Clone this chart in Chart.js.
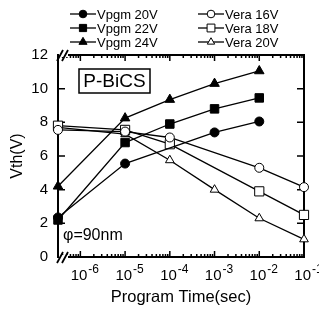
<!DOCTYPE html>
<html>
<head>
<meta charset="utf-8">
<script src="https://cdn.jsdelivr.net/npm/chart.js@4.4.0/dist/chart.umd.min.js"></script>
<style>
html, body { margin: 0; padding: 0; background: #fff; }
</style>
</head>
<body>
<canvas id="grafico" width="319" height="310"></canvas>
<script>
const FUENTE = "'Liberation Sans', Arial, sans-serif";

// t = 0 se dibuja en el corte del eje (10^-6.5)
const T0 = Math.pow(10, -6.5);

// Datos
const etiquetas = ['Vpgm 20V', 'Vpgm 22V', 'Vpgm 24V', 'Vera 16V', 'Vera 18V', 'Vera 20V'];

const tiempoVpgm20 = [T0, 1e-5, 1e-3, 1e-2];
const vthVpgm20 = [2.35, 5.55, 7.4, 8.05];

const tiempoVpgm22 = [T0, 1e-5, 1e-4, 1e-3, 1e-2];
const vthVpgm22 = [2.2, 6.8, 7.9, 8.8, 9.45];

const tiempoVpgm24 = [T0, 1e-5, 1e-4, 1e-3, 1e-2];
const vthVpgm24 = [4.2, 8.25, 9.35, 10.3, 11.05];

const tiempoVera16 = [T0, 1e-5, 1e-4, 1e-2, 1e-1];
const vthVera16 = [7.55, 7.45, 7.1, 5.3, 4.15];

const tiempoVera18 = [T0, 1e-5, 1e-4, 1e-2, 1e-1];
const vthVera18 = [7.8, 7.55, 6.7, 3.9, 2.5];

const tiempoVera20 = [T0, 1e-5, 1e-4, 1e-3, 1e-2, 1e-1];
const vthVera20 = [7.7, 7.3, 5.75, 4.0, 2.3, 1.05];

const decadas = [-6, -5, -4, -3, -2, -1];
const ticksY = [0, 2, 4, 6, 8, 10, 12];

function pares(xs, ys) {
    return xs.map((x, i) => ({ x: x, y: ys[i] }));
}

function serie(label, xs, ys, estilo, radio, relleno) {
    return {
        label: label,
        data: pares(xs, ys),
        borderColor: '#000',
        borderWidth: 1.3,
        pointStyle: estilo,
        pointRadius: radio,
        pointBackgroundColor: relleno ? '#000' : '#fff',
        pointBorderColor: '#000',
        pointBorderWidth: 1,
        fill: false,
        tension: 0,
        clip: false
    };
}

// Marco, ticks hacia adentro y corte del eje
const marco = {
    id: 'marco',
    beforeDatasetsDraw(chart) {
        const { ctx, chartArea: a, scales: { x, y } } = chart;
        ctx.save();
        ctx.strokeStyle = '#000';
        ctx.lineWidth = 2;
        ctx.strokeRect(a.left, a.top, a.right - a.left, a.bottom - a.top);

        ctx.lineWidth = 1.5;
        ctx.beginPath();
        ticksY.forEach(v => {
            const py = y.getPixelForValue(v);
            ctx.moveTo(a.left, py); ctx.lineTo(a.left + 7, py);
            ctx.moveTo(a.right, py); ctx.lineTo(a.right - 7, py);
        });
        for (let k = -7; k <= -1; k++) {
            for (let m = 1; m <= 9; m++) {
                const v = m * Math.pow(10, k);
                if (v < x.min * 1.01 || v > x.max * 1.001) continue;
                const px = x.getPixelForValue(v);
                const largo = m === 1 ? 6 : 3;
                ctx.moveTo(px, a.bottom); ctx.lineTo(px, a.bottom - largo);
                ctx.moveTo(px, a.top); ctx.lineTo(px, a.top + largo);
            }
        }
        ctx.stroke();

        // corte "//" arriba y abajo
        [a.top, a.bottom].forEach(yy => {
            ctx.fillStyle = '#fff';
            ctx.fillRect(a.left + 1, yy - 2, 9, 4);
            ctx.beginPath();
            ctx.lineWidth = 1.8;
            ctx.moveTo(a.left - 1, yy + 6); ctx.lineTo(a.left + 5, yy - 5);
            ctx.moveTo(a.left + 4, yy + 6); ctx.lineTo(a.left + 10, yy - 5);
            ctx.stroke();
        });
        ctx.restore();
    },
    afterDraw(chart) {
        const { ctx, chartArea: a, scales: { x } } = chart;
        ctx.save();
        ctx.fillStyle = '#000';
        ctx.textBaseline = 'alphabetic';
        // etiquetas del eje x con exponente
        decadas.forEach(k => {
            const px = x.getPixelForValue(Math.pow(10, k));
            ctx.font = '15px ' + FUENTE;
            ctx.textAlign = 'right';
            ctx.fillText('10', px + 7, a.bottom + 23);
            ctx.font = '12px ' + FUENTE;
            ctx.textAlign = 'left';
            ctx.fillText('-' + (-k), px + 8, a.bottom + 16);
        });

        // recuadro P-BiCS
        ctx.lineWidth = 1.5;
        ctx.strokeStyle = '#000';
        ctx.strokeRect(79, 69, 71, 24);
        ctx.font = '19px ' + FUENTE;
        ctx.textAlign = 'center';
        ctx.textBaseline = 'middle';
        ctx.fillText('P-BiCS', 114.5, 82);

        ctx.font = '16px ' + FUENTE;
        ctx.textAlign = 'left';
        ctx.fillText('\u03c6=90nm', 63, 236);

        // leyenda en dos columnas
        const colX = [70, 198];
        const filaY = [14, 28, 42];
        ctx.font = '13px ' + FUENTE;
        chart.data.datasets.forEach((ds, i) => {
            const col = i < 3 ? 0 : 1;
            const lx = colX[col];
            const ly = filaY[i % 3];
            ctx.beginPath();
            ctx.lineWidth = 1.3;
            ctx.strokeStyle = '#000';
            ctx.moveTo(lx, ly); ctx.lineTo(lx + 26, ly);
            ctx.stroke();
            ctx.fillStyle = ds.pointBackgroundColor;
            ctx.lineWidth = 1;
            Chart.helpers.drawPoint(ctx, {
                pointStyle: ds.pointStyle,
                radius: ds.pointRadius * 0.85,
                rotation: 0,
                borderWidth: 1
            }, lx + 13, ly);
            ctx.fillStyle = '#000';
            ctx.textBaseline = 'middle';
            ctx.fillText(ds.label, lx + 27, ly + 1);
        });
        ctx.restore();
    }
};

new Chart(document.getElementById('grafico'), {
    type: 'line',
    data: {
        datasets: [
            serie(etiquetas[0], tiempoVpgm20, vthVpgm20, 'circle', 4.5, true),
            serie(etiquetas[1], tiempoVpgm22, vthVpgm22, 'rect', 6, true),
            serie(etiquetas[2], tiempoVpgm24, vthVpgm24, 'triangle', 5.5, true),
            serie(etiquetas[3], tiempoVera16, vthVera16, 'circle', 4.5, false),
            serie(etiquetas[4], tiempoVera18, vthVera18, 'rect', 6.5, false),
            serie(etiquetas[5], tiempoVera20, vthVera20, 'triangle', 5, false)
        ]
    },
    options: {
        responsive: false,
        animation: false,
        devicePixelRatio: 1,
        layout: { padding: { top: 55, right: 15, left: 0, bottom: 0 } },
        plugins: {
            legend: { display: false },
            tooltip: { enabled: false }
        },
        scales: {
            x: {
                type: 'logarithmic',
                min: T0,
                max: 0.1,
                grid: { display: false, drawTicks: false },
                border: { display: false },
                ticks: { display: false },
                title: {
                    display: true,
                    text: 'Program Time(sec)',
                    color: '#000',
                    font: { family: FUENTE, size: 16.5 },
                    padding: { top: 0, bottom: 3 }
                },
                afterFit: s => { s.height = 53; }
            },
            y: {
                min: 0,
                max: 12,
                grid: { display: false, drawTicks: false },
                border: { display: false },
                ticks: {
                    stepSize: 2,
                    color: '#000',
                    padding: 10,
                    font: { family: FUENTE, size: 15 }
                },
                title: {
                    display: true,
                    text: 'Vth(V)',
                    color: '#000',
                    font: { family: FUENTE, size: 16 },
                    padding: { top: 8, bottom: 0 }
                },
                afterFit: s => { s.width = 58; }
            }
        }
    },
    plugins: [marco]
});
</script>
</body>
</html>
